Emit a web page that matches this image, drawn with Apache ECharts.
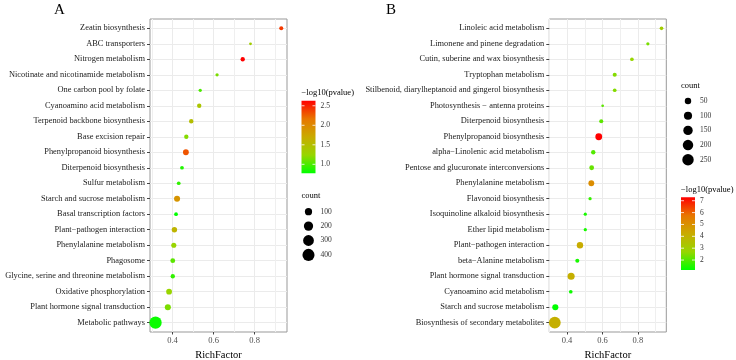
<!DOCTYPE html>
<html>
<head>
<meta charset="utf-8">
<script src="https://cdn.jsdelivr.net/npm/echarts@6/dist/echarts.min.js"></script>
<style>
  html, body { margin: 0; padding: 0; background: #fff; }
  #chart { width: 736px; height: 360px; }
</style>
</head>
<body>
<div id="chart"></div>
<script>
// panel A, top to bottom
const pathwaysA = ['Zeatin biosynthesis', 'ABC transporters', 'Nitrogen metabolism',
  'Nicotinate and nicotinamide metabolism', 'One carbon pool by folate', 'Cyanoamino acid metabolism',
  'Terpenoid backbone biosynthesis', 'Base excision repair', 'Phenylpropanoid biosynthesis',
  'Diterpenoid biosynthesis', 'Sulfur metabolism', 'Starch and sucrose metabolism',
  'Basal transcription factors', 'Plant\u2212pathogen interaction', 'Phenylalanine metabolism',
  'Phagosome', 'Glycine, serine and threonine metabolism', 'Oxidative phosphorylation',
  'Plant hormone signal transduction', 'Metabolic pathways'];
const richA = [0.930, 0.780, 0.742, 0.617, 0.535, 0.530, 0.491, 0.467, 0.465, 0.446,
  0.430, 0.422, 0.417, 0.409, 0.406, 0.401, 0.401, 0.383, 0.377, 0.317];
const pvalA = [2.40, 1.33, 2.63, 1.15, 1.00, 1.42, 1.50, 1.18, 2.30, 0.87,
  0.92, 1.90, 0.77, 1.60, 1.25, 1.05, 0.92, 1.25, 1.15, 0.80];
const countA = [17, 10, 21, 11, 11, 21, 21, 21, 50, 14, 14, 58, 14, 40, 34, 28, 21, 50, 58, 420];

// panel B, top to bottom
const pathwaysB = ['Linoleic acid metabolism', 'Limonene and pinene degradation',
  'Cutin, suberine and wax biosynthesis', 'Tryptophan metabolism',
  'Stilbenoid, diarylheptanoid and gingerol biosynthesis', 'Photosynthesis \u2212 antenna proteins',
  'Diterpenoid biosynthesis', 'Phenylpropanoid biosynthesis', 'alpha\u2212Linolenic acid metabolism',
  'Pentose and glucuronate interconversions', 'Phenylalanine metabolism', 'Flavonoid biosynthesis',
  'Isoquinoline alkaloid biosynthesis', 'Ether lipid metabolism', 'Plant\u2212pathogen interaction',
  'beta\u2212Alanine metabolism', 'Plant hormone signal transduction', 'Cyanoamino acid metabolism',
  'Starch and sucrose metabolism', 'Biosynthesis of secondary metabolites'];
const richB = [0.933, 0.856, 0.766, 0.669, 0.669, 0.601, 0.593, 0.579, 0.548, 0.539,
  0.537, 0.530, 0.503, 0.503, 0.473, 0.458, 0.423, 0.421, 0.334, 0.331];
const pvalB = [3.0, 2.4, 2.7, 2.5, 2.5, 2.1, 2.1, 7.29, 2.0, 2.2,
  5.1, 1.7, 1.4, 1.4, 4.2, 1.4, 4.1, 1.3, 1.16, 4.1];
const countB = [8, 6, 8, 11, 8, 5, 11, 60, 14, 19, 36, 6, 6, 6, 49, 11, 68, 8, 42, 270];

// axis breaks and legend breaks
const xTicks = [0.4, 0.6, 0.8];
const xMinor = [0.3, 0.5, 0.7, 0.9];
const colorBreaksA = ['1.0', '1.5', '2.0', '2.5'];
const colorBreaksB = ['2', '3', '4', '5', '6', '7'];
const sizeBreaksA = [100, 200, 300, 400];
const sizeBreaksB = [50, 100, 150, 200, 250];

const FONT = '"Liberation Serif", "DejaVu Serif", serif';
const gradColors = ['#00FF00', '#97D600', '#C9AB00', '#E87600', '#FF0000'];

function sizeScale(counts, dmin, dmax) {
  const lo = Math.min(...counts), hi = Math.max(...counts);
  return n => dmin + (dmax - dmin) * Math.sqrt(Math.max(0, n - lo) / (hi - lo));
}
const sizeA = sizeScale(countA, 2.8, 12.3);
const sizeB = sizeScale(countB, 2.7, 11.8);

const panels = [
  { cats: pathwaysA, rich: richA, pval: pvalA, count: countA, size: sizeA,
    grid: { left: 150, top: 19, width: 137, height: 313 }, xMin: 0.29, xMax: 0.958,
    letter: 'A', letterX: 54,
    colorLeg: { x: 301.5, titleY: 93, top: 100.7, h: 72.6, breaks: colorBreaksA },
    sizeLeg: { x: 301.5, titleY: 196.5, firstY: 211.7, step: 14.4, breaks: sizeBreaksA } },
  { cats: pathwaysB, rich: richB, pval: pvalB, count: countB, size: sizeB,
    grid: { left: 549.3, top: 19, width: 117, height: 313 }, xMin: 0.30, xMax: 0.96,
    letter: 'B', letterX: 386,
    colorLeg: { x: 681, titleY: 190, top: 197.3, h: 72.7, breaks: colorBreaksB },
    sizeLeg: { x: 681, titleY: 86, firstY: 101, step: 14.7, breaks: sizeBreaksB } }
];

const option = {
  animation: false,
  backgroundColor: '#fff',
  title: [],
  grid: [],
  xAxis: [],
  yAxis: [],
  visualMap: [],
  series: [],
  graphic: []
};

panels.forEach((p, i) => {
  const idx = p.cats.map((c, k) => k);
  option.title.push({
    text: p.letter, left: p.letterX, top: 3, padding: 0,
    textStyle: { fontFamily: FONT, fontSize: 15, fontWeight: 'normal', color: '#000' }
  });
  option.grid.push(Object.assign({
    show: true, borderColor: '#999', borderWidth: 1, backgroundColor: 'transparent',
    containLabel: false, outerBoundsMode: 'none'
  }, p.grid));
  // main x axis: labels, ticks, major grid lines
  option.xAxis.push({
    gridIndex: i, type: 'value', min: p.xMin, max: p.xMax, position: 'bottom',
    name: 'RichFactor', nameLocation: 'middle', nameGap: 15,
    nameTextStyle: { fontFamily: FONT, fontSize: 10.5, color: '#000' },
    axisLine: { show: false, onZero: false },
    axisTick: { show: true, length: 2.5, customValues: xTicks, lineStyle: { color: '#444' } },
    axisLabel: { customValues: xTicks, margin: 4, fontFamily: FONT, fontSize: 8.5, color: '#4d4d4d',
      formatter: v => v.toFixed(1) },
    splitLine: { show: true, lineStyle: { color: '#EBEBEB', width: 1 } }
  });
  // second x axis (top) only for the minor grid lines
  option.xAxis.push({
    gridIndex: i, type: 'value', min: p.xMin, max: p.xMax, position: 'top',
    axisLine: { show: false, onZero: false }, axisLabel: { show: false },
    axisTick: { show: true, length: 0, customValues: xMinor, lineStyle: { color: 'rgba(0,0,0,0)' } },
    splitLine: { show: true, lineStyle: { color: '#EFEFEF', width: 1 } }
  });
  option.yAxis.push({
    gridIndex: i, type: 'value', inverse: true, min: -0.6, max: p.cats.length - 0.4,
    axisLine: { show: false, onZero: false },
    axisTick: { show: true, length: 3, customValues: idx, lineStyle: { color: '#444' } },
    axisLabel: { customValues: idx, margin: 5, fontFamily: FONT, fontSize: 8.4, color: '#1a1a1a',
      formatter: v => p.cats[Math.round(v)] },
    splitLine: { show: true, lineStyle: { color: '#EBEBEB', width: 1 } }
  });
  const pmin = Math.min(...p.pval), pmax = Math.max(...p.pval);
  option.visualMap.push({
    show: false, type: 'continuous', seriesIndex: i, dimension: 2,
    min: pmin, max: pmax, inRange: { color: gradColors }
  });
  option.series.push({
    type: 'scatter', xAxisIndex: i * 2, yAxisIndex: i,
    data: p.rich.map((r, k) => [r, k, p.pval[k], p.count[k]]),
    symbolSize: d => p.size(d[3]),
    itemStyle: { opacity: 1 }
  });

  // colour bar legend
  const cl = p.colorLeg;
  option.graphic.push({
    type: 'text', left: cl.x, top: cl.titleY - 5,
    style: { text: '\u2212log10(pvalue)', font: '8.5px ' + FONT, fill: '#000' }
  });
  option.graphic.push({
    type: 'rect', shape: { x: cl.x, y: cl.top, width: 14, height: cl.h },
    style: {
      fill: new echarts.graphic.LinearGradient(0, 1, 0, 0,
        gradColors.map((c, k) => ({ offset: k / (gradColors.length - 1), color: c })))
    }
  });
  cl.breaks.forEach(b => {
    const y = cl.top + cl.h * (pmax - Number(b)) / (pmax - pmin);
    option.graphic.push({ type: 'line', shape: { x1: cl.x, y1: y, x2: cl.x + 3, y2: y },
      style: { stroke: '#fff', lineWidth: 0.8 } });
    option.graphic.push({ type: 'line', shape: { x1: cl.x + 11, y1: y, x2: cl.x + 14, y2: y },
      style: { stroke: '#fff', lineWidth: 0.8 } });
    option.graphic.push({
      type: 'text', x: cl.x + 19, y: y,
      style: { text: b, font: '7.5px ' + FONT, fill: '#333', verticalAlign: 'middle', align: 'left' }
    });
  });

  // size legend
  const sl = p.sizeLeg;
  option.graphic.push({
    type: 'text', left: sl.x, top: sl.titleY - 5,
    style: { text: 'count', font: '8.5px ' + FONT, fill: '#000' }
  });
  sl.breaks.forEach((b, k) => {
    const y = sl.firstY + k * sl.step;
    option.graphic.push({ type: 'circle', shape: { cx: sl.x + 7, cy: y, r: p.size(b) / 2 },
      style: { fill: '#000' } });
    option.graphic.push({
      type: 'text', x: sl.x + 19, y: y,
      style: { text: String(b), font: '7.5px ' + FONT, fill: '#333', verticalAlign: 'middle', align: 'left' }
    });
  });
});

const chart = echarts.init(document.getElementById('chart'), null, { renderer: 'canvas' });
chart.setOption(option);
</script>
</body>
</html>
